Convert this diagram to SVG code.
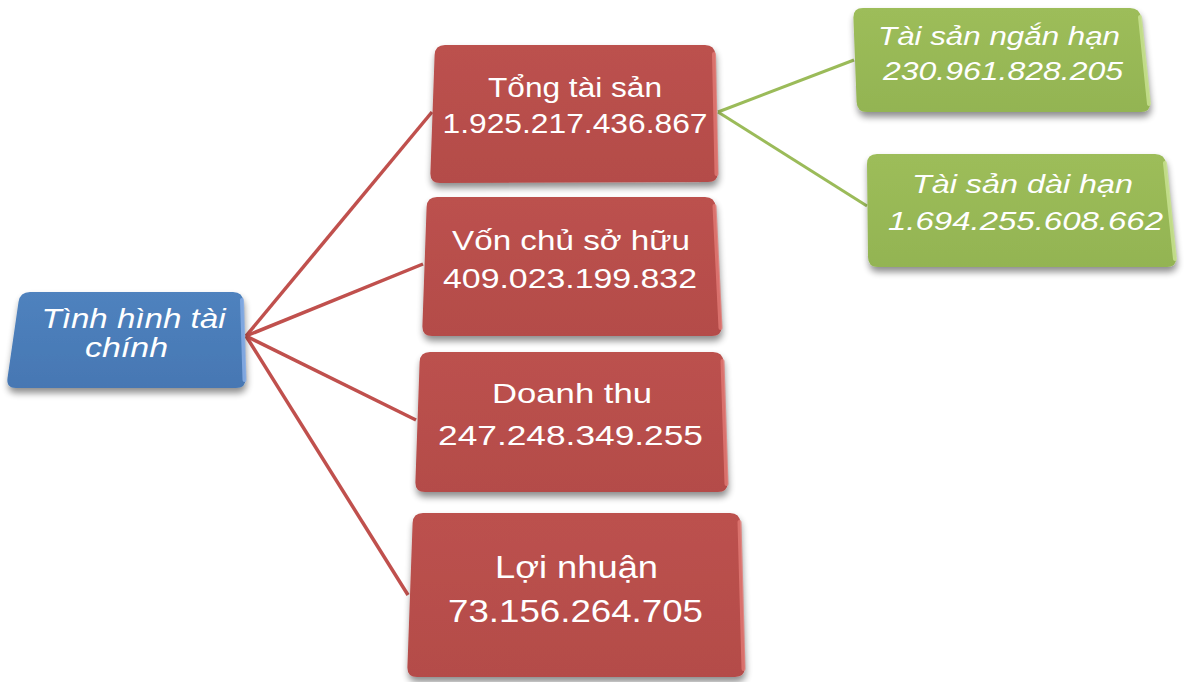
<svg xmlns="http://www.w3.org/2000/svg" width="1184" height="682" viewBox="0 0 1184 682">
  <defs>
    <filter id="shadow" x="-10%" y="-10%" width="125%" height="130%">
      <feGaussianBlur in="SourceAlpha" stdDeviation="3.5"/>
      <feOffset dx="1" dy="5" result="b"/>
      <feComponentTransfer><feFuncA type="linear" slope="0.45"/></feComponentTransfer>
      <feMerge><feMergeNode/><feMergeNode in="SourceGraphic"/></feMerge>
    </filter>
    <linearGradient id="gRed" x1="0" y1="0" x2="0" y2="1">
      <stop offset="0" stop-color="#BC514E"/>
      <stop offset="1" stop-color="#B44C49"/>
    </linearGradient>
    <linearGradient id="gBlue" x1="0" y1="0" x2="0" y2="1">
      <stop offset="0" stop-color="#4F82BE"/>
      <stop offset="1" stop-color="#4677B3"/>
    </linearGradient>
    <linearGradient id="gGreen" x1="0" y1="0" x2="0" y2="1">
      <stop offset="0" stop-color="#9DBD5A"/>
      <stop offset="1" stop-color="#93B452"/>
    </linearGradient>
  </defs>
  <style>
    .red { fill: url(#gRed); filter: url(#shadow); }
    .blue { fill: url(#gBlue); filter: url(#shadow); }
    .green { fill: url(#gGreen); filter: url(#shadow); }
    .rimR { fill: none; stroke: #E27A76; stroke-width: 4; stroke-linecap: round; opacity: 0.8; }
    .rimB { fill: none; stroke: #88AEE6; stroke-width: 4; stroke-linecap: round; opacity: 0.85; }
    .rimG { fill: none; stroke: #C8E290; stroke-width: 4; stroke-linecap: round; opacity: 0.85; }
    .lbl { font-family: "Liberation Sans", Arial, sans-serif; fill: #FFFFFF; text-anchor: middle; }
    .it { font-style: italic; }
    .cr { stroke: #C0504D; stroke-width: 3.5; fill: none; }
    .cg { stroke: #9BBB59; stroke-width: 3; fill: none; }
  </style>

  <!-- connectors -->
  <g id="connectors">
    <line class="cr" x1="246" y1="336" x2="432" y2="112"/>
    <line class="cr" x1="246" y1="336" x2="423" y2="264"/>
    <line class="cr" x1="246" y1="336" x2="416" y2="420"/>
    <line class="cr" x1="246" y1="336" x2="408" y2="595"/>
    <line class="cg" x1="718" y1="112" x2="854" y2="60"/>
    <line class="cg" x1="718" y1="112" x2="867" y2="206"/>
  </g>

  <!-- root -->
  <g id="tinh-hinh-tai-chinh">
    <path class="blue" d="M30,292 L233,292 Q243,292 243.3,302 L245.7,378 Q246,388 236,388 L16,388 Q6,388 7.5,378 L18.5,302 Q20,292 30,292 Z"/>
    <path class="rimB" d="M242,300 L244.5,380"/>
    <text class="lbl it" x="133.5" y="328" font-size="28" textLength="184" lengthAdjust="spacingAndGlyphs">Tình hình tài</text>
    <text class="lbl it" x="126.5" y="357" font-size="28" textLength="83" lengthAdjust="spacingAndGlyphs">chính</text>
  </g>

  <g id="tong-tai-san">
    <path class="red" d="M445,45 L705,45 Q715,45 715.2,55 L717.8,172 Q718,182 708,182 L440,183 Q430,183 430.4,173 L434.6,55 Q435,45 445,45 Z"/>
    <path class="rimR" d="M714,54 L716.5,174"/>
    <text class="lbl" x="575" y="97" font-size="27" textLength="174" lengthAdjust="spacingAndGlyphs">Tổng tài sản</text>
    <text class="lbl" x="575" y="133" font-size="27" textLength="265" lengthAdjust="spacingAndGlyphs">1.925.217.436.867</text>
  </g>

  <g id="von-chu-so-huu">
    <path class="red" d="M437,197 L705,197 Q715,197 715.5,207 L721.5,326 Q722,336 712,336 L432,336 Q422,336 422.4,326 L426.6,207 Q427,197 437,197 Z"/>
    <path class="rimR" d="M714.5,206 L720.5,328"/>
    <text class="lbl" x="571" y="250" font-size="27" textLength="238" lengthAdjust="spacingAndGlyphs">Vốn chủ sở hữu</text>
    <text class="lbl" x="570" y="288" font-size="27" textLength="254" lengthAdjust="spacingAndGlyphs">409.023.199.832</text>
  </g>

  <g id="doanh-thu">
    <path class="red" d="M430,352 L713,352 Q723,352 723.4,362 L727.6,482 Q728,492 718,492 L425,492 Q415,492 415.4,482 L419.6,362 Q420,352 430,352 Z"/>
    <path class="rimR" d="M722.5,361 L726.5,484"/>
    <text class="lbl" x="572" y="403" font-size="28" textLength="160" lengthAdjust="spacingAndGlyphs">Doanh thu</text>
    <text class="lbl" x="570.5" y="445" font-size="28" textLength="265" lengthAdjust="spacingAndGlyphs">247.248.349.255</text>
  </g>

  <g id="loi-nhuan">
    <path class="red" d="M423,513 L730,513 Q740,513 740.3,523 L744.7,667 Q745,677 735,677 L417,677 Q407,677 407.4,667 L412.6,523 Q413,513 423,513 Z"/>
    <path class="rimR" d="M739.5,522 L743.5,669"/>
    <text class="lbl" x="576.5" y="578" font-size="31" textLength="163" lengthAdjust="spacingAndGlyphs">Lợi nhuận</text>
    <text class="lbl" x="575.5" y="622" font-size="31" textLength="255" lengthAdjust="spacingAndGlyphs">73.156.264.705</text>
  </g>

  <g id="tai-san-ngan-han">
    <path class="green" d="M863,8 L1130,8 Q1140,8 1141,18 L1150,102 Q1151,112 1141,112 L867,112 Q857,112 856.6,102 L853.4,18 Q853,8 863,8 Z"/>
    <path class="rimG" d="M1140,17 L1149,104"/>
    <text class="lbl it" x="999" y="45" font-size="25" textLength="242" lengthAdjust="spacingAndGlyphs">Tài sản ngắn hạn</text>
    <text class="lbl it" x="1003" y="80" font-size="25" textLength="240" lengthAdjust="spacingAndGlyphs">230.961.828.205</text>
  </g>

  <g id="tai-san-dai-han">
    <path class="green" d="M877,154 L1155,154 Q1165,154 1166,164 L1176,257 Q1177,267 1167,267 L878,267 Q868,267 868,257 L867,164 Q867,154 877,154 Z"/>
    <path class="rimG" d="M1165,163 L1175,259"/>
    <text class="lbl it" x="1022.5" y="193" font-size="26" textLength="221" lengthAdjust="spacingAndGlyphs">Tài sản dài hạn</text>
    <text class="lbl it" x="1025.5" y="230" font-size="26" textLength="275" lengthAdjust="spacingAndGlyphs">1.694.255.608.662</text>
  </g>
</svg>
